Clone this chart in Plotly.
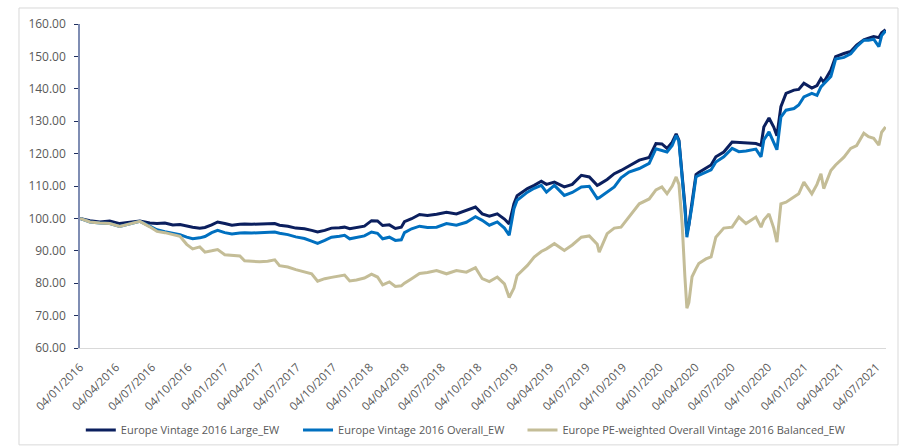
import plotly.graph_objects as go

# Daily index levels (rebased to 100 on 04/01/2016), sampled along the series
dates = [
    "2016-01-04", "2016-01-29", "2016-02-23", "2016-03-19", "2016-04-13", "2016-05-09",
    "2016-06-03", "2016-06-28", "2016-07-16", "2016-08-05", "2016-08-25", "2016-09-12",
    "2016-09-29", "2016-10-14", "2016-11-01", "2016-11-14", "2016-12-01", "2016-12-16",
    "2017-01-03", "2017-01-21", "2017-02-10", "2017-02-22", "2017-03-12", "2017-04-01",
    "2017-04-21", "2017-05-09", "2017-05-21", "2017-06-11", "2017-07-01", "2017-07-23",
    "2017-08-10", "2017-08-25", "2017-09-12", "2017-09-29", "2017-10-19", "2017-11-01",
    "2017-11-14", "2017-12-01", "2017-12-21", "2018-01-08", "2018-01-23", "2018-02-05",
    "2018-02-22", "2018-03-09", "2018-03-24", "2018-04-01", "2018-04-19", "2018-05-09",
    "2018-05-29", "2018-06-21", "2018-07-16", "2018-08-10", "2018-09-04", "2018-09-27",
    "2018-10-14", "2018-11-01", "2018-11-21", "2018-12-09", "2018-12-21", "2019-01-02",
    "2019-01-10", "2019-02-05", "2019-02-22", "2019-03-12", "2019-03-25", "2019-04-14",
    "2019-05-09", "2019-05-29", "2019-06-21", "2019-07-11", "2019-07-31", "2019-08-05",
    "2019-08-25", "2019-09-12", "2019-09-29", "2019-10-19", "2019-11-14", "2019-12-09",
    "2019-12-26", "2020-01-10", "2020-01-23", "2020-02-05", "2020-02-15", "2020-02-22",
    "2020-03-01", "2020-03-08", "2020-03-13", "2020-03-18", "2020-03-26", "2020-04-05",
    "2020-04-12", "2020-04-30", "2020-05-13", "2020-05-25", "2020-06-14", "2020-07-05",
    "2020-07-22", "2020-08-09", "2020-09-03", "2020-09-16", "2020-09-23", "2020-10-06",
    "2020-10-18", "2020-10-26", "2020-11-05", "2020-11-18", "2020-12-08", "2020-12-20",
    "2021-01-02", "2021-01-22", "2021-02-04", "2021-02-14", "2021-02-21", "2021-03-11",
    "2021-03-23", "2021-04-13", "2021-04-30", "2021-05-15", "2021-06-02", "2021-06-14",
    "2021-06-27", "2021-07-10", "2021-07-17", "2021-07-27",
]

large_ew = [
    100.0, 99.3, 98.9, 99.2, 98.4, 98.9,
    99.2, 98.6, 98.4, 98.6, 98.0, 98.1,
    97.6, 97.3, 97.0, 97.2, 98.0, 98.9,
    98.4, 97.9, 98.2, 98.3, 98.2, 98.3,
    98.3, 98.4, 97.9, 97.6, 97.0, 96.8,
    96.3, 95.8, 96.3, 97.0, 97.1, 97.3,
    96.8, 97.2, 97.6, 99.3, 99.2, 97.8,
    98.0, 96.9, 97.3, 99.0, 99.9, 101.2,
    100.9, 101.3, 101.9, 101.4, 102.4, 103.5,
    101.4, 100.7, 101.4, 99.8, 98.3, 104.5,
    107.0, 109.2, 110.2, 111.5, 110.5, 111.2,
    109.7, 110.5, 113.3, 112.8, 110.2, 110.5,
    112.0, 113.8, 114.8, 116.2, 118.0, 118.8,
    123.1, 123.0, 121.6, 123.5, 126.1, 124.1,
    113.8, 104.0, 95.3, 98.0, 105.0, 113.5,
    114.2, 115.4, 116.5, 119.0, 120.5, 123.6,
    123.4, 123.4, 123.1, 122.5, 128.2, 131.0,
    128.2, 125.5, 134.5, 138.6, 139.6, 139.8,
    141.7, 140.2, 141.0, 143.2, 142.0, 145.8,
    149.9, 150.9, 151.5, 153.5, 155.1, 155.6,
    156.1, 155.8, 157.3, 158.2,
]

overall_ew = [
    100.0, 98.9, 98.6, 98.4, 97.5, 98.4,
    99.1, 97.6, 96.5, 95.9, 95.4, 95.0,
    94.2, 93.7, 94.0, 94.4, 95.6, 96.3,
    95.6, 95.2, 95.5, 95.6, 95.5, 95.6,
    95.7, 95.8, 95.4, 95.0, 94.3, 93.8,
    93.0, 92.3, 93.2, 94.2, 94.5, 94.8,
    93.7, 94.1, 94.6, 95.8, 95.4, 93.7,
    94.2, 93.2, 93.4, 95.6, 96.8, 97.6,
    97.2, 97.3, 98.4, 97.9, 98.8, 100.5,
    99.4, 97.9, 98.9, 97.0, 94.8, 103.0,
    105.6, 108.1, 109.3, 110.2, 108.1, 110.2,
    107.1, 108.0, 109.7, 109.9, 106.1, 106.4,
    108.0, 109.7, 112.5, 114.3, 115.4, 117.0,
    121.5, 121.0, 120.5, 122.5, 125.6, 123.8,
    113.0, 103.0, 94.2, 97.5, 104.0, 112.8,
    113.3, 114.3, 115.0, 117.4, 119.0, 121.6,
    120.6, 120.8, 121.4, 119.0, 124.2, 126.7,
    123.5, 121.2, 131.3, 133.4, 133.9, 135.0,
    137.5, 138.6, 138.0, 140.6, 141.5, 143.8,
    149.2, 149.7, 150.8, 153.0, 155.0, 155.0,
    155.3, 153.0, 156.4, 157.9,
]

pe_weighted_balanced_ew = [
    100.0, 98.9, 98.6, 98.4, 97.5, 98.4,
    99.1, 97.4, 96.0, 95.6, 95.0, 94.5,
    92.0, 90.6, 91.2, 89.6, 90.0, 90.4,
    88.8, 88.6, 88.4, 86.9, 86.8, 86.6,
    86.8, 87.2, 85.4, 85.0, 84.2, 83.6,
    82.9, 80.6, 81.4, 81.8, 82.3, 82.5,
    80.7, 81.0, 81.6, 82.8, 81.9, 79.5,
    80.4, 79.0, 79.2, 80.0, 81.4, 83.0,
    83.3, 83.9, 82.9, 83.9, 83.4, 84.8,
    81.4, 80.5, 81.9, 79.8, 75.6, 78.5,
    82.4, 85.5, 88.1, 89.8, 90.6, 92.2,
    90.1, 91.8, 94.2, 94.6, 92.0, 89.6,
    95.3, 97.0, 97.3, 100.4, 104.5, 106.0,
    108.8, 109.7, 107.6, 110.0, 112.8, 110.5,
    98.4, 82.0, 72.3, 74.0, 82.0, 84.5,
    86.1, 87.5, 88.1, 94.2, 97.0, 97.3,
    100.4, 98.4, 100.4, 97.3, 99.5, 101.4,
    97.0, 92.7, 104.5, 105.0, 106.5, 107.6,
    111.2, 107.6, 110.5, 113.8, 109.2, 114.8,
    116.5, 118.9, 121.6, 122.5, 126.3, 125.2,
    124.7, 122.6, 126.6, 128.2,
]

series_names = [
    "Europe Vintage 2016 Large_EW",
    "Europe Vintage 2016 Overall_EW",
    "Europe PE-weighted Overall Vintage 2016 Balanced_EW",
]
series_colors = ["#0B1F5E", "#0070C0", "#C4BD97"]
legend_ids = ["legend", "legend2", "legend3"]
legend_x = [0.001, 0.2705, 0.549]

font_family = "Open Sans, Liberation Sans, sans-serif"
text_color = "#595959"

fig = go.Figure()
for name, values, color, lg in zip(series_names,
                                   [large_ew, overall_ew, pe_weighted_balanced_ew],
                                   series_colors, legend_ids):
    fig.add_trace(go.Scatter(
        x=dates, y=values, name=name, mode="lines",
        line=dict(color=color, width=3), legend=lg,
    ))

legend_style = dict(
    orientation="h", xanchor="left", y=-0.253, yanchor="middle",
    font=dict(family=font_family, size=11, color=text_color),
    itemwidth=30, bgcolor="rgba(0,0,0,0)",
)

fig.update_layout(
    width=899, height=446,
    margin=dict(l=80, r=13, t=24, b=98, autoexpand=False),
    paper_bgcolor="white", plot_bgcolor="white",
    font=dict(family=font_family, size=11, color=text_color),
    showlegend=True,
    legend=dict(x=legend_x[0], **legend_style),
    legend2=dict(x=legend_x[1], **legend_style),
    legend3=dict(x=legend_x[2], **legend_style),
    xaxis=dict(
        type="date",
        range=["2016-01-04", "2021-07-28"],
        tick0="2016-01-04", dtick="M3", tickformat="%d/%m/%Y",
        tickangle=-45, ticks="", ticklabelstandoff=7,
        showgrid=False, zeroline=False,
        showline=True, linecolor="#D9D9D9", linewidth=1,
        tickfont=dict(family=font_family, size=11.5, color=text_color),
    ),
    yaxis=dict(
        range=[60, 160], dtick=10, tickformat=".2f",
        ticks="outside", ticklen=4, tickcolor="#1F2F5F", tickwidth=1,
        ticklabelstandoff=6,
        showgrid=False, zeroline=False,
        showline=True, linecolor="#7F8DB3", linewidth=1.5,
        tickfont=dict(family=font_family, size=12, color=text_color),
    ),
    shapes=[dict(
        type="rect", xref="paper", yref="paper",
        x0=-0.0757, x1=1.0149, y0=-0.299, y1=1.0494,
        line=dict(color="#D9D9D9", width=1), fillcolor="rgba(0,0,0,0)",
        layer="below",
    )],
)

fig.write_html("out.html")
